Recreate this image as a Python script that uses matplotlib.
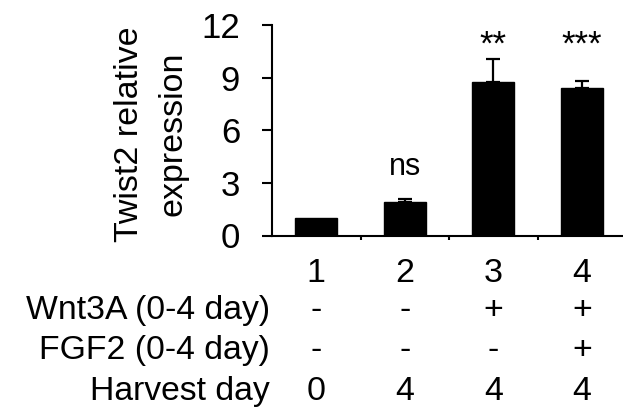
import numpy as np
import matplotlib
matplotlib.use('Agg')
import matplotlib.pyplot as plt
import matplotlib.transforms as mtransforms

matplotlib.rcParams.update({'font.family': ['Liberation Sans', 'DejaVu Sans']})

# data
groups = ['1', '2', '3', '4']
means = [1.0, 1.9, 8.77, 8.43]
err_up = [0.0, 0.19, 1.28, 0.38]
signif = ['', 'ns', '**', '***']
signif_y = [0, 3.45, 10.3, 10.3]

row_labels = ['Wnt3A (0-4 day)', 'FGF2 (0-4 day)', 'Harvest day']
wnt3a = ['-', '-', '+', '+']
fgf2 = ['-', '-', '-', '+']
harvest = ['0', '4', '4', '4']

W, H = 623, 412
fig = plt.figure(figsize=(W / 100.0, H / 100.0), dpi=100)

def fx(px):
    return px / float(W)

def fy(py):
    return 1.0 - py / float(H)

ax = fig.add_axes([fx(272), fy(235.5), fx(626) - fx(272), fy(25) - fy(235.5)])

x = np.arange(len(groups))
ax.bar(x, means, width=0.48, color='black', edgecolor='black', zorder=2)
ax.errorbar(x[1:], means[1:], yerr=[np.zeros(3), err_up[1:]], fmt='none',
            ecolor='black', elinewidth=1.6, capsize=5, capthick=1.6, zorder=1)

for xi, s, sy in zip(x, signif, signif_y):
    if s:
        ax.text(xi, sy, s, ha='center', va='baseline', fontsize=22 if s == 'ns' else 25)

ax.set_xlim(-0.5, 3.5)
ax.set_ylim(0, 12)
ax.set_yticks([0, 3, 6, 9, 12])
ax.set_xticks([0.5, 1.5, 2.5])
ax.set_xticklabels([])
ax.tick_params(axis='y', length=7, width=1.5, labelsize=25, pad=16)
ax.tick_params(axis='x', length=3, width=1.5)
for side in ['top', 'right']:
    ax.spines[side].set_visible(False)
for side in ['left', 'bottom']:
    ax.spines[side].set_linewidth(1.5)

# two-line y label, one line at a time
fig.text(fx(130), fy(134), 'Twist2 relative', rotation=90,
         ha='center', va='center', fontsize=24.5)
fig.text(fx(173), fy(134), 'expression', rotation=90,
         ha='center', va='center', fontsize=24.5)

# table under the bars: x in data coords, y in figure coords
trans = mtransforms.blended_transform_factory(ax.transData, fig.transFigure)
baselines = [282, 319, 359, 400]
for xi, g in zip(x, groups):
    ax.text(xi, fy(baselines[0]), g, transform=trans, ha='center', va='baseline',
            fontsize=24.5, clip_on=False)
for row, (lab, vals) in enumerate(zip(row_labels, [wnt3a, fgf2, harvest])):
    yb = fy(baselines[row + 1])
    fig.text(fx(270), yb, lab, ha='right', va='baseline', fontsize=24.3)
    for xi, v in zip(x, vals):
        ax.text(xi, yb, v, transform=trans, ha='center', va='baseline',
                fontsize=24.5, clip_on=False)

fig.savefig('out.png', dpi=100)
